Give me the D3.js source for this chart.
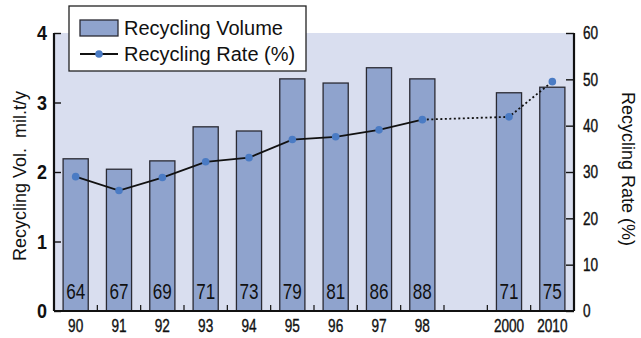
<!DOCTYPE html>
<html><head><meta charset="utf-8">
<script src="https://cdn.jsdelivr.net/npm/d3@7"></script>
<style>
body{margin:0;background:#fff;}
text{font-family:"Liberation Sans",Arial,sans-serif;fill:#111;}
</style></head>
<body><svg id="c" width="641" height="338"></svg>
<script>
const categories = ["90","91","92","93","94","95","96","97","98","","2000","2010"];
const volume = [2.19, 2.04, 2.16, 2.65, 2.59, 3.34, 3.28, 3.50, 3.34, null, 3.14, 3.22];
const rate = [29.0, 26.0, 28.8, 32.2, 33.1, 37.0, 37.6, 39.1, 41.3, null, 41.9, 49.5];
const barLabels = [64, 67, 69, 71, 73, 79, 81, 86, 88, null, 71, 75];
const leftTicks = [0, 1, 2, 3, 4];
const rightTicks = [0, 10, 20, 30, 40, 50, 60];

const svg = d3.select("#c");
const L = 54, R = 574, T = 33, B = 311;
const x = d3.scaleBand().domain(categories).range([L, R]).padding(0);
const yL = d3.scaleLinear().domain([0, 4]).range([B, T]);
const yR = d3.scaleLinear().domain([0, 60]).range([B, T]);
const bw = x.bandwidth() * 0.58;
const cx = c => x(c) + x.bandwidth() / 2;

function squash(sel, sx, sy) {
  sel.each(function () {
    const t = d3.select(this);
    const tx = +t.attr("x") || 0, ty = +t.attr("y") || 0;
    t.attr("x", 0).attr("y", 0).attr("transform", `translate(${tx},${ty}) scale(${sx},${sy})`);
  });
}

// background
svg.append("rect").attr("x", L).attr("y", T).attr("width", R - L).attr("height", B - T).attr("fill", "#d9deef");

// bars
const data = categories.map((c, i) => ({c, v: volume[i], r: rate[i], lab: barLabels[i]}));
svg.selectAll("rect.bar").data(data.filter(d => d.v != null)).join("rect")
  .attr("class", "bar")
  .attr("x", d => cx(d.c) - bw / 2).attr("width", bw)
  .attr("y", d => yL(d.v)).attr("height", d => B - yL(d.v))
  .attr("fill", "#8fa3cd").attr("stroke", "#2a2a33").attr("stroke-width", 1.3);

svg.selectAll("text.blab").data(data.filter(d => d.lab != null)).join("text")
  .attr("class", "blab")
  .attr("x", d => cx(d.c)).attr("y", 299)
  .attr("text-anchor", "middle").attr("font-size", 18)
  .text(d => d.lab)
  .call(squash, 0.95, 1.18);

// line
const pts = data.filter(d => d.r != null);
const solid = pts.slice(0, 9), dotted = pts.slice(8);
const line = d3.line().x(d => cx(d.c)).y(d => yR(d.r));
svg.append("path").attr("d", line(solid)).attr("fill", "none").attr("stroke", "#111").attr("stroke-width", 1.8);
svg.append("path").attr("d", line(dotted)).attr("fill", "none").attr("stroke", "#111").attr("stroke-width", 1.8).attr("stroke-dasharray", "2,2.5");
svg.selectAll("circle.pt").data(pts).join("circle").attr("class", "pt")
  .attr("cx", d => cx(d.c)).attr("cy", d => yR(d.r)).attr("r", 3.8).attr("fill", "#4a7bc4");

// axes
const ax = svg.append("g").attr("transform", `translate(${L},0)`)
  .call(d3.axisLeft(yL).tickValues(leftTicks).tickSize(-7).tickPadding(7).tickFormat(d3.format("d")));
const axR = svg.append("g").attr("transform", `translate(${R},0)`)
  .call(d3.axisRight(yR).tickValues(rightTicks).tickSize(-8).tickPadding(9).tickFormat(d3.format("d")));
const axB = svg.append("g").attr("transform", `translate(0,${B})`)
  .call(d3.axisBottom(x).tickSize(0).tickPadding(7));
[ax, axR, axB].forEach(g => {
  g.select(".domain").attr("stroke", "#111").attr("stroke-width", 2.2);
  g.selectAll(".tick line").attr("stroke", "#111").attr("stroke-width", 1.4);
  g.selectAll("text").attr("fill", "#111").style("font-family", null);
});
ax.select(".domain").attr("d", `M0,${T}V${B}`);
axR.select(".domain").attr("d", `M0,${T}V${B}`);
axB.select(".domain").attr("d", `M${L},0H${R}`);
ax.selectAll("text").attr("font-size", 18).attr("font-weight", "bold").call(squash, 1, 1.15);
axR.selectAll("text").attr("font-size", 16).attr("stroke", "#111").attr("stroke-width", 0.35).call(squash, 0.85, 1.13);
axB.selectAll("text").attr("font-size", 16).attr("stroke", "#111").attr("stroke-width", 0.35).attr("dy", "0.75em").call(squash, 0.85, 1.13);

// small boundary ticks on bottom axis
const bounds = categories.slice(1).map(c => x(c));
svg.selectAll("line.bt").data(bounds).join("line").attr("class", "bt")
  .attr("x1", d => d).attr("x2", d => d).attr("y1", B).attr("y2", B - 6)
  .attr("stroke", "#111").attr("stroke-width", 1.2);

// axis titles
svg.append("text").attr("transform", "translate(26,176) rotate(-90)")
  .attr("text-anchor", "middle").attr("font-size", 18).attr("xml:space", "preserve")
  .text("Recycling Vol.  mil.t/y");
svg.append("text").attr("transform", "translate(622,169) rotate(90)")
  .attr("text-anchor", "middle").attr("font-size", 18)
  .text("Recycling Rate (%)");

// legend
const lg = svg.append("g");
lg.append("rect").attr("x", 69).attr("y", 6).attr("width", 237).attr("height", 65)
  .attr("fill", "#fff").attr("stroke", "#222").attr("stroke-width", 1.3);
lg.append("rect").attr("x", 80).attr("y", 20).attr("width", 38).attr("height", 16)
  .attr("fill", "#8fa3cd").attr("stroke", "#2a2a33").attr("stroke-width", 1.3);
lg.append("text").attr("x", 124).attr("y", 35).attr("font-size", 20).text("Recycling Volume");
lg.append("line").attr("x1", 80).attr("x2", 118).attr("y1", 54).attr("y2", 54).attr("stroke", "#111").attr("stroke-width", 1.8);
lg.append("circle").attr("cx", 99).attr("cy", 54).attr("r", 3.8).attr("fill", "#4a7bc4");
lg.append("text").attr("x", 124).attr("y", 61).attr("font-size", 20).text("Recycling Rate (%)");
</script></body></html>
